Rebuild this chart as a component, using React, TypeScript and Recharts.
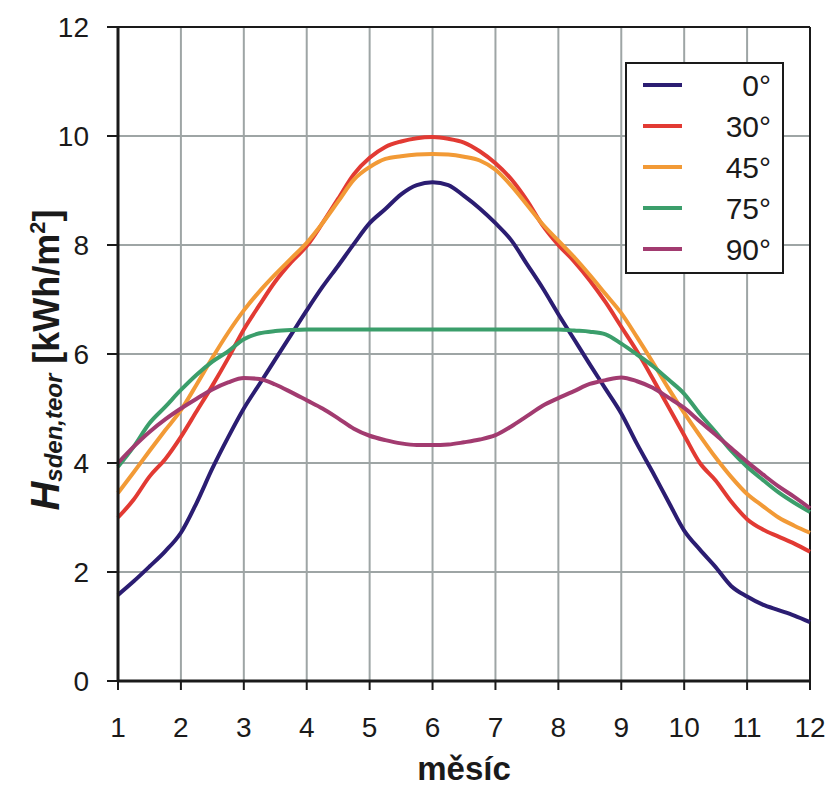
import {
  LineChart,
  Line,
  XAxis,
  YAxis,
  CartesianGrid,
  ReferenceLine,
  Customized,
} from 'recharts';

// x positions (month), read every quarter month
const MONTHS = [
  1, 1.25, 1.5, 1.75, 2, 2.25, 2.5, 2.75, 3, 3.25, 3.5, 3.75, 4, 4.25, 4.5, 4.75,
  5, 5.25, 5.5, 5.75, 6, 6.25, 6.5, 6.75, 7, 7.25, 7.5, 7.75, 8, 8.25, 8.5, 8.75,
  9, 9.25, 9.5, 9.75, 10, 10.25, 10.5, 10.75, 11, 11.25, 11.5, 11.75, 12,
];

const TILT_0 = [
  1.58, 1.83, 2.1, 2.38, 2.72, 3.27, 3.9, 4.47, 5.0, 5.45, 5.9, 6.35, 6.8, 7.23, 7.62, 8.02,
  8.4, 8.66, 8.93, 9.1, 9.15, 9.1, 8.9, 8.67, 8.4, 8.09, 7.65, 7.21, 6.73, 6.27, 5.81, 5.36,
  4.91, 4.35, 3.83, 3.29, 2.76, 2.41, 2.09, 1.74, 1.55, 1.4, 1.3, 1.2, 1.08,
];
const TILT_30 = [
  3.0, 3.33, 3.75, 4.07, 4.48, 4.95, 5.42, 5.92, 6.45, 6.9, 7.33, 7.68, 7.98, 8.4, 8.85, 9.3,
  9.6, 9.8, 9.9, 9.96, 9.98, 9.95, 9.88, 9.72, 9.5, 9.21, 8.82, 8.36, 8.0, 7.7, 7.35, 6.95,
  6.5, 6.05, 5.55, 5.03, 4.51, 4.0, 3.68, 3.29, 2.97, 2.78, 2.65, 2.52, 2.37,
];
const TILT_45 = [
  3.45, 3.83, 4.22, 4.6, 4.97, 5.44, 5.93, 6.39, 6.8, 7.15, 7.46, 7.75, 8.04, 8.4, 8.8, 9.2,
  9.43, 9.58, 9.63, 9.66, 9.67, 9.66, 9.62, 9.55, 9.38, 9.09, 8.74, 8.38, 8.08, 7.78, 7.45, 7.1,
  6.75, 6.31, 5.85, 5.37, 4.92, 4.5, 4.1, 3.74, 3.43, 3.21, 3.0, 2.85, 2.72,
];
const TILT_75 = [
  3.93, 4.3, 4.73, 5.03, 5.34, 5.62, 5.86, 6.05, 6.27, 6.38, 6.42, 6.44, 6.45, 6.45, 6.45, 6.45,
  6.45, 6.45, 6.45, 6.45, 6.45, 6.45, 6.45, 6.45, 6.45, 6.45, 6.45, 6.45, 6.45, 6.43, 6.41, 6.36,
  6.19, 5.99, 5.78, 5.53, 5.27, 4.9, 4.57, 4.22, 3.93, 3.69, 3.46, 3.27, 3.1,
];
const TILT_90 = [
  4.0, 4.3, 4.57, 4.8, 5.0, 5.18, 5.35, 5.48, 5.56, 5.54, 5.44, 5.3, 5.15, 5.0, 4.82, 4.63,
  4.5, 4.42, 4.36, 4.33, 4.33, 4.34, 4.38, 4.43, 4.51, 4.67, 4.86, 5.05, 5.19, 5.32, 5.45, 5.52,
  5.57, 5.5, 5.38, 5.2, 5.01, 4.76, 4.52, 4.27, 4.02, 3.79, 3.57, 3.38, 3.17,
];

const X_TICKS = [1, 2, 3, 4, 5, 6, 7, 8, 9, 10, 11, 12];
const Y_TICKS = [0, 2, 4, 6, 8, 10, 12];

const SERIES = [
  { key: 't0', name: '0°', color: '#2b1d72' },
  { key: 't30', name: '30°', color: '#e23a33' },
  { key: 't45', name: '45°', color: '#f29a36' },
  { key: 't75', name: '75°', color: '#3b9e6b' },
  { key: 't90', name: '90°', color: '#a23b70' },
];

const data = MONTHS.map((m, i) => ({
  month: m,
  t0: TILT_0[i],
  t30: TILT_30[i],
  t45: TILT_45[i],
  t75: TILT_75[i],
  t90: TILT_90[i],
}));

const FONT = '"Liberation Sans", Arial, sans-serif';
const INK = '#1a1a1a';
const GRID = '#9ea5a5';

function Overlay() {
  return (
    <g fontFamily={FONT} fill={INK}>
      {/* y title */}
      <text transform="translate(59,360) rotate(-90)" textAnchor="middle" fontWeight="bold">
        <tspan fontSize={40} fontStyle="italic">H</tspan>
        <tspan fontSize={24} fontStyle="italic" dy={3}>sden,teor</tspan>
        <tspan fontSize={36} dy={-3} dx={10}>[kWh/m</tspan>
        <tspan fontSize={22} dy={-14}>2</tspan>
        <tspan fontSize={36} dy={14}>]</tspan>
      </text>
      {/* x title */}
      <text x={464} y={780} textAnchor="middle" fontSize={33} fontWeight="bold">
        měsíc
      </text>
      {/* legend */}
      <rect x={626} y={63} width={157} height={210} fill="#fff" stroke={INK} strokeWidth={2} />
      {SERIES.map((s, i) => (
        <g key={s.key}>
          <line x1={643} x2={682} y1={85 + i * 41} y2={85 + i * 41} stroke={s.color} strokeWidth={4} />
          <text x={771} y={96 + i * 41} textAnchor="end" fontSize={30}>
            {s.name}
          </text>
        </g>
      ))}
    </g>
  );
}

export default function App() {
  const tick = { fontSize: 28, fill: INK, fontFamily: FONT };
  return (
    <div style={{ position: 'absolute', left: 0, top: 0, width: 832, height: 789, background: '#fff' }}>
      <LineChart width={832} height={789} data={data} margin={{ top: 27, right: 22, bottom: 0, left: 0 }}>
        <CartesianGrid stroke={GRID} strokeWidth={2} />
        <XAxis
          type="number"
          dataKey="month"
          domain={[1, 12]}
          ticks={X_TICKS}
          interval={0}
          height={108}
          tick={tick}
          tickSize={9}
          tickMargin={27}
          axisLine={{ stroke: INK, strokeWidth: 3 }}
          tickLine={{ stroke: INK, strokeWidth: 2 }}
        />
        <YAxis
          type="number"
          domain={[0, 12]}
          ticks={Y_TICKS}
          interval={0}
          width={118}
          tick={tick}
          tickSize={11}
          tickMargin={18}
          axisLine={{ stroke: INK, strokeWidth: 3 }}
          tickLine={{ stroke: INK, strokeWidth: 2 }}
        />
        <ReferenceLine y={12} stroke={INK} strokeWidth={2} />
        <ReferenceLine x={12} stroke={INK} strokeWidth={2} />
        {SERIES.map((s) => (
          <Line
            key={s.key}
            type="monotone"
            dataKey={s.key}
            name={s.name}
            stroke={s.color}
            strokeWidth={4}
            dot={false}
            activeDot={false}
            isAnimationActive={false}
          />
        ))}
        <Customized component={Overlay} />
      </LineChart>
    </div>
  );
}
